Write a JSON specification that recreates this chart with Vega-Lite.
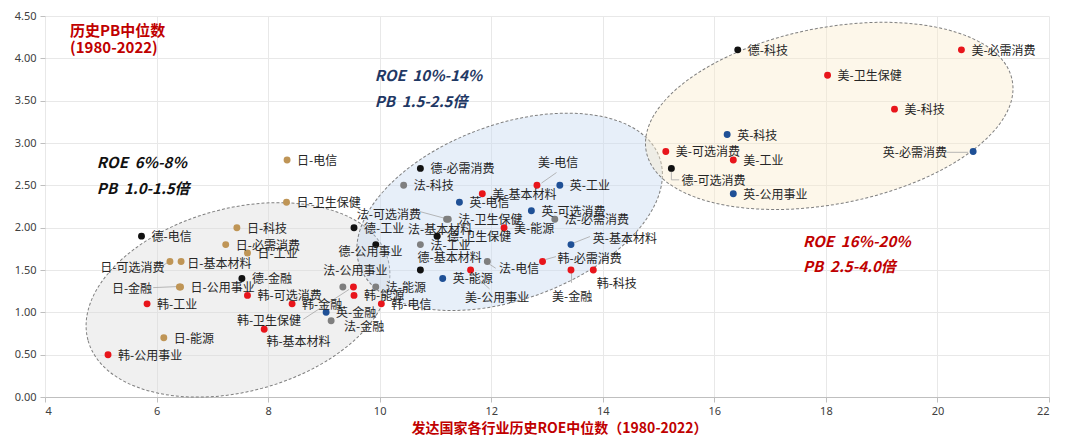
{
  "$schema": "https://vega.github.io/schema/vega-lite/v6.json",
  "width": 1004,
  "height": 381,
  "autosize": {"type": "none"},
  "padding": {"left": 45, "top": 16, "right": 31, "bottom": 48},
  "background": "white",
  "config": {
    "view": {"stroke": null},
    "axis": {"gridColor": "#E8E8E8", "gridWidth": 1, "domainColor": "#BFBFBF", "tickColor": "#BFBFBF", "tickSize": 5, "labelFont": "Noto Sans", "labelFontSize": 11, "labelColor": "#404040"},
    "axisX": {"titleFont": "Noto Sans CJK SC", "titleFontSize": 14, "titleFontWeight": "bold", "titleColor": "#C00000", "titlePadding": 5, "labelPadding": 3, "titleX": 514},
    "axisY": {"domain": false, "labelPadding": 4}
  },
  "datasets": {
    "pts": [
      {"c": "法", "name": "法-科技", "x": 10.43, "y": 2.5},
      {"c": "法", "name": "法-可选消费", "x": 11.2, "y": 2.1, "lx": 9.59, "ly": 2.163},
      {"c": "法", "name": "法-卫生保健", "x": 11.23, "y": 2.1},
      {"c": "法", "name": "法-基本材料", "x": 11.03, "y": 1.9, "lx": 10.51, "ly": 1.986},
      {"c": "法", "name": "法-工业", "x": 10.73, "y": 1.8},
      {"c": "法", "name": "法-公用事业", "x": 9.34, "y": 1.3, "lx": 8.99, "ly": 1.5},
      {"c": "法", "name": "法-能源", "x": 9.93, "y": 1.3},
      {"c": "法", "name": "法-金融", "x": 9.13, "y": 0.9, "lx": 9.36, "ly": 0.843},
      {"c": "法", "name": "法-电信", "x": 11.93, "y": 1.6, "lx": 12.14, "ly": 1.525},
      {"c": "法", "name": "法-必需消费", "x": 13.14, "y": 2.1},
      {"c": "日", "name": "日-电信", "x": 8.34, "y": 2.8},
      {"c": "日", "name": "日-卫生保健", "x": 8.33, "y": 2.3},
      {"c": "日", "name": "日-科技", "x": 7.44, "y": 2.0},
      {"c": "日", "name": "日-必需消费", "x": 7.24, "y": 1.8},
      {"c": "日", "name": "日-工业", "x": 7.63, "y": 1.7},
      {"c": "日", "name": "日-可选消费", "x": 6.24, "y": 1.6, "lx": 4.99, "ly": 1.54},
      {"c": "日", "name": "日-基本材料", "x": 6.44, "y": 1.6, "lx": 6.55, "ly": 1.584},
      {"c": "日", "name": "日-金融", "x": 6.41, "y": 1.3, "lx": 5.2, "ly": 1.285},
      {"c": "日", "name": "日-公用事业", "x": 6.43, "y": 1.3},
      {"c": "日", "name": "日-能源", "x": 6.13, "y": 0.7},
      {"c": "韩", "name": "韩-公用事业", "x": 5.13, "y": 0.5},
      {"c": "韩", "name": "韩-工业", "x": 5.83, "y": 1.1},
      {"c": "韩", "name": "韩-可选消费", "x": 7.63, "y": 1.2},
      {"c": "韩", "name": "韩-卫生保健", "x": 9.53, "y": 1.3, "lx": 7.44, "ly": 0.91},
      {"c": "韩", "name": "韩-基本材料", "x": 7.93, "y": 0.8, "lx": 7.97, "ly": 0.656},
      {"c": "韩", "name": "韩-金融", "x": 8.43, "y": 1.1},
      {"c": "韩", "name": "韩-能源", "x": 9.54, "y": 1.2},
      {"c": "韩", "name": "韩-电信", "x": 10.03, "y": 1.1},
      {"c": "韩", "name": "韩-必需消费", "x": 12.92, "y": 1.6, "lx": 13.19, "ly": 1.647},
      {"c": "韩", "name": "韩-科技", "x": 13.83, "y": 1.5, "lx": 13.89, "ly": 1.351},
      {"c": "美", "name": "美-电信", "x": 12.82, "y": 2.5, "lx": 12.84, "ly": 2.78},
      {"c": "美", "name": "美-基本材料", "x": 11.84, "y": 2.4},
      {"c": "美", "name": "美-能源", "x": 12.23, "y": 2.0},
      {"c": "美", "name": "美-公用事业", "x": 11.63, "y": 1.5, "lx": 11.53, "ly": 1.18},
      {"c": "美", "name": "美-金融", "x": 13.43, "y": 1.5, "lx": 13.09, "ly": 1.197},
      {"c": "美", "name": "美-可选消费", "x": 15.13, "y": 2.9},
      {"c": "美", "name": "美-工业", "x": 16.34, "y": 2.8},
      {"c": "美", "name": "美-卫生保健", "x": 18.03, "y": 3.8},
      {"c": "美", "name": "美-必需消费", "x": 20.43, "y": 4.1},
      {"c": "美", "name": "美-科技", "x": 19.23, "y": 3.4},
      {"c": "英", "name": "英-电信", "x": 11.43, "y": 2.3},
      {"c": "英", "name": "英-工业", "x": 13.23, "y": 2.5},
      {"c": "英", "name": "英-可选消费", "x": 12.72, "y": 2.2},
      {"c": "英", "name": "英-基本材料", "x": 13.43, "y": 1.8, "lx": 13.82, "ly": 1.883},
      {"c": "英", "name": "英-能源", "x": 11.13, "y": 1.4},
      {"c": "英", "name": "英-金融", "x": 9.04, "y": 1.0},
      {"c": "英", "name": "英-科技", "x": 16.23, "y": 3.1},
      {"c": "英", "name": "英-公用事业", "x": 16.34, "y": 2.4},
      {"c": "英", "name": "英-必需消费", "x": 20.64, "y": 2.9, "lx": 19.02, "ly": 2.89},
      {"c": "德", "name": "德-电信", "x": 5.73, "y": 1.9},
      {"c": "德", "name": "德-金融", "x": 7.53, "y": 1.4},
      {"c": "德", "name": "德-工业", "x": 9.54, "y": 2.0},
      {"c": "德", "name": "德-公用事业", "x": 9.93, "y": 1.8, "lx": 9.26, "ly": 1.726},
      {"c": "德", "name": "德-必需消费", "x": 10.73, "y": 2.7},
      {"c": "德", "name": "德-卫生保健", "x": 11.03, "y": 1.9},
      {"c": "德", "name": "德-基本材料", "x": 10.73, "y": 1.5, "lx": 10.68, "ly": 1.655},
      {"c": "德", "name": "德-科技", "x": 16.42, "y": 4.1},
      {"c": "德", "name": "德-可选消费", "x": 15.23, "y": 2.7, "lx": 15.41, "ly": 2.565}
    ],
    "leaders": [
      {"x": 12.9, "y": 2.526, "x2": 13.17, "y2": 2.651},
      {"x": 20.16, "y": 2.89, "x2": 20.55, "y2": 2.89},
      {"x": 15.23, "y": 2.67, "x2": 15.23, "y2": 2.565},
      {"x": 15.23, "y": 2.565, "x2": 15.37, "y2": 2.565},
      {"x": 6.1, "y": 1.548, "x2": 6.19, "y2": 1.584},
      {"x": 5.94, "y": 1.292, "x2": 6.37, "y2": 1.304},
      {"x": 8.63, "y": 0.918, "x2": 9.45, "y2": 1.27},
      {"x": 10.72, "y": 2.19, "x2": 11.17, "y2": 2.11},
      {"x": 11.65, "y": 1.466, "x2": 11.97, "y2": 1.277},
      {"x": 11.96, "y": 1.572, "x2": 12.08, "y2": 1.521},
      {"x": 12.98, "y": 1.625, "x2": 13.16, "y2": 1.658},
      {"x": 13.48, "y": 1.82, "x2": 13.77, "y2": 1.895},
      {"x": 13.44, "y": 1.478, "x2": 13.44, "y2": 1.348}
    ]
  },
  "layer": [
    {
      "data": {"values": [{"x": 7.46, "y": 1.147}]},
      "mark": {"type": "point", "filled": true, "shape": "M -1 0 C -1 -0.3259 -0.5523 -0.59 0 -0.59 C 0.5523 -0.59 1 -0.3259 1 0 C 1 0.3259 0.5523 0.59 0 0.59 C -0.5523 0.59 -1 0.3259 -1 0 Z", "size": 96472, "angle": 345, "fill": "#D9D9D9", "fillOpacity": 0.4, "opacity": 1, "stroke": "#7F7F7F", "strokeWidth": 1, "strokeDash": [3, 2]},
      "encoding": {
        "x": {"field": "x", "type": "quantitative", "scale": {"domain": [4, 22]}, "axis": {"values": [4, 6, 8, 10, 12, 14, 16, 18, 20, 22], "format": "d"}, "title": "发达国家各行业历史ROE中位数（1980-2022）"},
        "y": {"field": "y", "type": "quantitative", "scale": {"domain": [0, 4.5]}, "axis": {"values": [0, 0.5, 1, 1.5, 2, 2.5, 3, 3.5, 4, 4.5], "format": ".2f"}, "title": null}
      }
    },
    {
      "data": {"values": [{"x": 12.33, "y": 2.187}]},
      "mark": {"type": "point", "filled": true, "shape": "M -1 0 C -1 -0.3032 -0.5523 -0.549 0 -0.549 C 0.5523 -0.549 1 -0.3032 1 0 C 1 0.3032 0.5523 0.549 0 0.549 C -0.5523 0.549 -1 0.3032 -1 0 Z", "size": 101633, "angle": 340, "fill": "#C5D9F1", "fillOpacity": 0.42, "opacity": 1, "stroke": "#7F7F7F", "strokeWidth": 1, "strokeDash": [3, 2]},
      "encoding": {
        "x": {"field": "x", "type": "quantitative", "scale": {"domain": [4, 22]}, "axis": {"values": [4, 6, 8, 10, 12, 14, 16, 18, 20, 22], "format": "d"}, "title": "发达国家各行业历史ROE中位数（1980-2022）"},
        "y": {"field": "y", "type": "quantitative", "scale": {"domain": [0, 4.5]}, "title": null}
      }
    },
    {
      "data": {"values": [{"x": 18.06, "y": 3.32}]},
      "mark": {"type": "point", "filled": true, "shape": "M -1 0 C -1 -0.2613 -0.5523 -0.473 0 -0.473 C 0.5523 -0.473 1 -0.2613 1 0 C 1 0.2613 0.5523 0.473 0 0.473 C -0.5523 0.473 -1 0.2613 -1 0 Z", "size": 138980, "angle": 349, "fill": "#FBEBCB", "fillOpacity": 0.4, "opacity": 1, "stroke": "#7F7F7F", "strokeWidth": 1, "strokeDash": [3, 2]},
      "encoding": {
        "x": {"field": "x", "type": "quantitative", "scale": {"domain": [4, 22]}, "axis": {"values": [4, 6, 8, 10, 12, 14, 16, 18, 20, 22], "format": "d"}, "title": "发达国家各行业历史ROE中位数（1980-2022）"},
        "y": {"field": "y", "type": "quantitative", "scale": {"domain": [0, 4.5]}, "title": null}
      }
    },
    {
      "data": {"name": "leaders"},
      "mark": {"type": "rule", "color": "#A6A6A6", "strokeWidth": 0.8},
      "encoding": {
        "x": {"field": "x", "type": "quantitative", "scale": {"domain": [4, 22]}, "axis": {"values": [4, 6, 8, 10, 12, 14, 16, 18, 20, 22], "format": "d"}, "title": "发达国家各行业历史ROE中位数（1980-2022）"},
        "y": {"field": "y", "type": "quantitative", "scale": {"domain": [0, 4.5]}, "title": null},
        "x2": {"field": "x2"},
        "y2": {"field": "y2"}
      }
    },
    {
      "data": {"name": "pts"},
      "mark": {"type": "point", "filled": true, "size": 48, "opacity": 1},
      "encoding": {
        "x": {"field": "x", "type": "quantitative", "scale": {"domain": [4, 22]}, "axis": {"values": [4, 6, 8, 10, 12, 14, 16, 18, 20, 22], "format": "d"}, "title": "发达国家各行业历史ROE中位数（1980-2022）"},
        "y": {"field": "y", "type": "quantitative", "scale": {"domain": [0, 4.5]}, "title": null},
        "color": {"field": "c", "type": "nominal", "scale": {"domain": ["美", "英", "德", "法", "日", "韩"], "range": ["#E8151B", "#1F5096", "#111111", "#7F7F7F", "#BF9556", "#E8151B"]}, "legend": null}
      }
    },
    {
      "data": {"name": "pts"},
      "transform": [{"filter": "datum.lx == null"}],
      "mark": {"type": "text", "align": "left", "baseline": "middle", "dx": 10, "dy": 1, "font": "Noto Sans CJK SC", "fontSize": 12, "color": "#262626"},
      "encoding": {
        "x": {"field": "x", "type": "quantitative", "scale": {"domain": [4, 22]}, "axis": {"values": [4, 6, 8, 10, 12, 14, 16, 18, 20, 22], "format": "d"}, "title": "发达国家各行业历史ROE中位数（1980-2022）"},
        "y": {"field": "y", "type": "quantitative", "scale": {"domain": [0, 4.5]}, "title": null},
        "text": {"field": "name"}
      }
    },
    {
      "data": {"name": "pts"},
      "transform": [{"filter": "datum.lx != null"}],
      "mark": {"type": "text", "align": "left", "baseline": "middle", "dy": 1, "font": "Noto Sans CJK SC", "fontSize": 12, "color": "#262626"},
      "encoding": {
        "x": {"field": "lx", "type": "quantitative", "scale": {"domain": [4, 22]}, "axis": {"values": [4, 6, 8, 10, 12, 14, 16, 18, 20, 22], "format": "d"}, "title": "发达国家各行业历史ROE中位数（1980-2022）"},
        "y": {"field": "ly", "type": "quantitative", "scale": {"domain": [0, 4.5]}, "title": null},
        "text": {"field": "name"}
      }
    },
    {
      "data": {"values": [{"x": 4.45, "y": 4.318, "t": "历史PB中位数"}, {"x": 4.45, "y": 4.122, "t": "(1980-2022)"}]},
      "mark": {"type": "text", "align": "left", "baseline": "middle", "font": "Noto Sans CJK SC", "fontSize": 15, "fontWeight": "bold", "color": "#C00000"},
      "encoding": {
        "x": {"field": "x", "type": "quantitative", "scale": {"domain": [4, 22]}, "axis": {"values": [4, 6, 8, 10, 12, 14, 16, 18, 20, 22], "format": "d"}, "title": "发达国家各行业历史ROE中位数（1980-2022）"},
        "y": {"field": "y", "type": "quantitative", "scale": {"domain": [0, 4.5]}, "title": null},
        "text": {"field": "t"}
      }
    },
    {
      "data": {"values": [{"x": 4.93, "y": 2.762, "t": "ROE\u00a0\u00a06%-8%"}, {"x": 4.93, "y": 2.455, "t": "PB\u00a0\u00a01.0-1.5倍"}]},
      "mark": {"type": "text", "align": "left", "baseline": "middle", "font": "Noto Sans CJK SC", "fontSize": 15, "fontWeight": "bold", "fontStyle": "italic", "color": "#111111"},
      "encoding": {
        "x": {"field": "x", "type": "quantitative", "scale": {"domain": [4, 22]}, "axis": {"values": [4, 6, 8, 10, 12, 14, 16, 18, 20, 22], "format": "d"}, "title": "发达国家各行业历史ROE中位数（1980-2022）"},
        "y": {"field": "y", "type": "quantitative", "scale": {"domain": [0, 4.5]}, "title": null},
        "text": {"field": "t"}
      }
    },
    {
      "data": {"values": [{"x": 9.91, "y": 3.786, "t": "ROE\u00a0\u00a010%-14%"}, {"x": 9.91, "y": 3.49, "t": "PB\u00a0\u00a01.5-2.5倍"}]},
      "mark": {"type": "text", "align": "left", "baseline": "middle", "font": "Noto Sans CJK SC", "fontSize": 15, "fontWeight": "bold", "fontStyle": "italic", "color": "#1F3864"},
      "encoding": {
        "x": {"field": "x", "type": "quantitative", "scale": {"domain": [4, 22]}, "axis": {"values": [4, 6, 8, 10, 12, 14, 16, 18, 20, 22], "format": "d"}, "title": "发达国家各行业历史ROE中位数（1980-2022）"},
        "y": {"field": "y", "type": "quantitative", "scale": {"domain": [0, 4.5]}, "title": null},
        "text": {"field": "t"}
      }
    },
    {
      "data": {"values": [{"x": 17.59, "y": 1.836, "t": "ROE\u00a0\u00a016%-20%"}, {"x": 17.59, "y": 1.54, "t": "PB\u00a0\u00a02.5-4.0倍"}]},
      "mark": {"type": "text", "align": "left", "baseline": "middle", "font": "Noto Sans CJK SC", "fontSize": 15, "fontWeight": "bold", "fontStyle": "italic", "color": "#C00000"},
      "encoding": {
        "x": {"field": "x", "type": "quantitative", "scale": {"domain": [4, 22]}, "axis": {"values": [4, 6, 8, 10, 12, 14, 16, 18, 20, 22], "format": "d"}, "title": "发达国家各行业历史ROE中位数（1980-2022）"},
        "y": {"field": "y", "type": "quantitative", "scale": {"domain": [0, 4.5]}, "title": null},
        "text": {"field": "t"}
      }
    }
  ]
}
